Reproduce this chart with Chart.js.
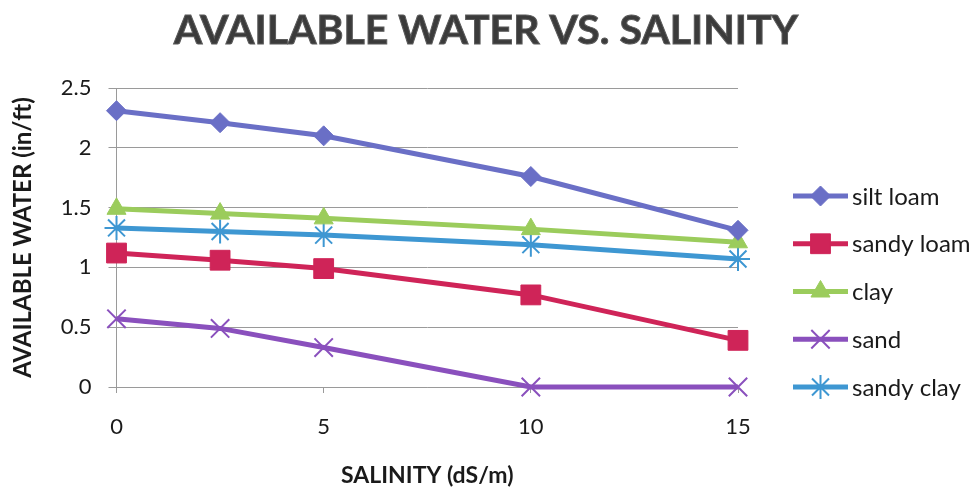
<!DOCTYPE html>
<html>
<head>
<meta charset="utf-8">
<script src="https://cdn.jsdelivr.net/npm/chart.js"></script>
<style>
  html, body { margin: 0; padding: 0; background: #fff; }
  #wrap { width: 976px; height: 489px; }
</style>
</head>
<body>
<div id="wrap"><canvas id="chart" width="976" height="489"></canvas></div>
<script>
// salinity readings (dS/m)
var salinity = [0, 2.5, 5, 10, 15];

// available water (in/ft) per soil
var siltLoam  = [2.31, 2.21, 2.10, 1.76, 1.31];
var sandyLoam = [1.12, 1.06, 0.99, 0.77, 0.39];
var clay      = [1.49, 1.45, 1.41, 1.32, 1.21];
var sand      = [0.57, 0.49, 0.33, 0.00, 0.00];
var sandyClay = [1.33, 1.30, 1.27, 1.19, 1.07];

var soilNames = ['silt loam', 'sandy loam', 'clay', 'sand', 'sandy clay'];
var chartTitle = 'AVAILABLE WATER VS. SALINITY';

function pairs(vals) {
    return vals.map(function (v, i) { return { x: salinity[i], y: v }; });
}

function series(label, vals, color, style, radius, bw) {
    return {
        label: label,
        data: pairs(vals),
        borderColor: color,
        backgroundColor: color,
        borderWidth: 5,
        pointStyle: style,
        pointRadius: radius,
        pointBorderWidth: bw,
        pointBackgroundColor: color,
        pointBorderColor: color,
        tension: 0,
        clip: false
    };
}

// title centred on the whole picture, not just the plot
var pageTitle = {
    id: 'pageTitle',
    afterDraw: function (chart) {
        var ctx = chart.ctx;
        ctx.save();
        ctx.font = 'bold 41px Lato';
        ctx.fillStyle = '#3b3b3b';
        ctx.strokeStyle = '#5a5a5a';
        ctx.lineWidth = 1;
        ctx.textAlign = 'center';
        ctx.textBaseline = 'alphabetic';
        ctx.fillText(chartTitle, chart.width / 2 - 2, 44);
        ctx.strokeText(chartTitle, chart.width / 2 - 2, 44);
        ctx.restore();
    }
};

// legend with a line and marker, like the spreadsheet one
var lineLegend = {
    id: 'lineLegend',
    afterDraw: function (chart) {
        var ctx = chart.ctx;
        var area = chart.chartArea;
        var x0 = area.right + 55;
        var top = area.top + 108;
        ctx.save();
        chart.data.datasets.forEach(function (ds, i) {
            var y = top + i * 47.75;
            ctx.strokeStyle = ds.borderColor;
            ctx.lineWidth = 5;
            ctx.beginPath();
            ctx.moveTo(x0, y);
            ctx.lineTo(x0 + 55, y);
            ctx.stroke();
            ctx.fillStyle = ds.backgroundColor;
            ctx.strokeStyle = ds.borderColor;
            ctx.lineWidth = ds.pointBorderWidth;
            Chart.helpers.drawPoint(ctx, {
                pointStyle: ds.pointStyle,
                radius: ds.pointRadius,
                rotation: 0,
                borderWidth: ds.pointBorderWidth
            }, x0 + 27.5, y);
            ctx.fillStyle = '#1a1a1a';
            ctx.font = '24px Lato';
            ctx.textBaseline = 'middle';
            ctx.textAlign = 'left';
            ctx.fillText(ds.label, x0 + 59, y + 1);
        });
        ctx.restore();
    }
};

var ctx = document.getElementById('chart').getContext('2d');
var chart = new Chart(ctx, {
    type: 'line',
    data: {
        datasets: [
            series(soilNames[0], siltLoam,  '#6a6fc6', 'rectRot', 10, 1),
            series(soilNames[1], sandyLoam, '#cf2458', 'rect', 14, 1),
            series(soilNames[2], clay,      '#9bcc5c', 'triangle', 11, 1),
            series(soilNames[3], sand,      '#8a50bd', 'crossRot', 13, 2),
            series(soilNames[4], sandyClay, '#3e97d2', 'star', 12, 2)
        ]
    },
    options: {
        responsive: false,
        animation: false,
        layout: { padding: { top: 88, right: 238, bottom: 0, left: 9 } },
        plugins: {
            legend: { display: false },
            tooltip: { enabled: false },
            title: { display: false }
        },
        scales: {
            x: {
                type: 'linear',
                min: 0,
                max: 15,
                ticks: { stepSize: 5, color: '#1a1a1a', font: { family: 'Lato', size: 22 }, padding: 21 },
                grid: { drawOnChartArea: false, drawTicks: true, tickLength: 6, color: '#9a9a9a' },
                border: { color: '#9a9a9a' },
                title: {
                    display: true,
                    text: 'SALINITY (dS/m)',
                    color: '#1a1a1a',
                    font: { family: 'Lato', size: 23, weight: 'bold' },
                    padding: { top: 0, bottom: 0 }
                }
            },
            y: {
                min: 0,
                max: 2.5,
                ticks: {
                    stepSize: 0.5,
                    color: '#1a1a1a',
                    font: { family: 'Lato', size: 22 },
                    padding: 17,
                    callback: function (v) { return String(v); }
                },
                grid: { color: '#9a9a9a', tickLength: 8 },
                border: { color: '#9a9a9a' },
                title: {
                    display: true,
                    text: 'AVAILABLE WATER (in/ft)',
                    color: '#1a1a1a',
                    font: { family: 'Lato', size: 24, weight: 'bold' },
                    padding: { top: 0, bottom: 6 }
                }
            }
        }
    },
    plugins: [pageTitle, lineLegend]
});
</script>
</body>
</html>
